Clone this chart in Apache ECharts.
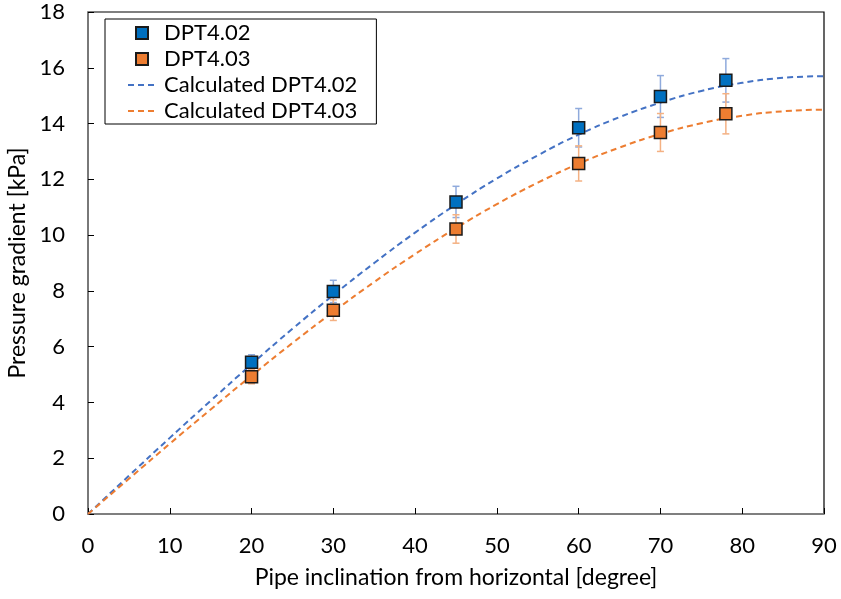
<!DOCTYPE html>
<html>
<head>
<meta charset="utf-8">
<script src="https://cdn.jsdelivr.net/npm/echarts@6/dist/echarts.min.js"></script>
<style>html,body{margin:0;padding:0;background:#fff;}#c{width:841px;height:599px;}</style>
</head>
<body>
<div id="c"></div>
<script>
const angles = [20, 30, 45, 60, 70, 78];
const dpt402 = [5.44, 7.98, 11.19, 13.85, 14.97, 15.55];
const dpt403 = [4.92, 7.31, 10.22, 12.57, 13.68, 14.35];
const err402 = [0.27, 0.40, 0.56, 0.69, 0.75, 0.78];
const err403 = [0.25, 0.37, 0.51, 0.63, 0.68, 0.72];
const calcAngles = [0, 5, 10, 15, 20, 25, 30, 35, 40, 45, 50, 55, 60, 65, 70, 75, 80, 85, 90];
const calc402 = [0, 1.37, 2.73, 4.06, 5.37, 6.64, 7.85, 9.0, 10.09, 11.1, 12.03, 12.86, 13.6, 14.23, 14.75, 15.17, 15.46, 15.64, 15.7];
const calc403 = [0, 1.26, 2.52, 3.75, 4.96, 6.13, 7.25, 8.32, 9.32, 10.25, 11.11, 11.88, 12.56, 13.14, 13.63, 14.01, 14.28, 14.44, 14.5];
const names = ['DPT4.02', 'DPT4.03', 'Calculated DPT4.02', 'Calculated DPT4.03'];

const FONT = 'Lato';
const chart = echarts.init(document.getElementById('c'), null, {renderer: 'canvas'});

function errSeries(ys, es, color) {
  return {
    type: 'custom',
    silent: true,
    z: 3,
    data: angles.map((a, i) => [a, ys[i], es[i]]),
    renderItem: function (params, api) {
      const x = api.value(0), y = api.value(1), e = api.value(2);
      const top = api.coord([x, y + e]);
      const bot = api.coord([x, y - e]);
      const hw = 3.5;
      const st = {stroke: color, lineWidth: 1.5};
      return {
        type: 'group',
        children: [
          {type: 'line', shape: {x1: top[0], y1: top[1], x2: bot[0], y2: bot[1]}, style: st},
          {type: 'line', shape: {x1: top[0] - hw, y1: top[1], x2: top[0] + hw, y2: top[1]}, style: st},
          {type: 'line', shape: {x1: bot[0] - hw, y1: bot[1], x2: bot[0] + hw, y2: bot[1]}, style: st}
        ]
      };
    }
  };
}

const sq = 'path://M0 0H10V10H0Z';
const hidden = {color: 'rgba(0,0,0,0)', borderColor: 'rgba(0,0,0,0)', borderWidth: 0};

chart.setOption({
  animation: false,
  backgroundColor: '#fff',
  textStyle: {fontFamily: FONT},
  grid: {left: 88, right: 17, top: 12, bottom: 85, show: true, borderColor: '#000', borderWidth: 1.2,
         containLabel: false, outerBoundsMode: 'none'},
  legend: {
    orient: 'vertical',
    left: 105, top: 19,
    padding: [3, 19, 2, 22],
    borderColor: '#000', borderWidth: 1,
    itemWidth: 28, itemHeight: 12, itemGap: 4,
    textStyle: {fontFamily: FONT, fontSize: 22, color: '#000', padding: [0, 0, 0, 3]},
    data: [
      {name: names[0], icon: sq},
      {name: names[1], icon: sq},
      {name: names[2], itemStyle: hidden},
      {name: names[3], itemStyle: hidden}
    ]
  },
  xAxis: {
    type: 'value', min: 0, max: 90, interval: 10,
    name: 'Pipe inclination from horizontal [degree]',
    nameLocation: 'middle', nameGap: 52,
    nameTextStyle: {fontFamily: FONT, fontSize: 23, color: '#000'},
    axisLine: {show: true, lineStyle: {color: '#808080', width: 1.5}},
    axisTick: {show: true, inside: true, length: 6, lineStyle: {color: '#000'}},
    axisLabel: {fontFamily: FONT, fontSize: 22, color: '#000', margin: 21},
    splitLine: {show: false}
  },
  yAxis: {
    type: 'value', min: 0, max: 18, interval: 2,
    name: 'Pressure gradient [kPa]',
    nameLocation: 'middle', nameGap: 51,
    nameTextStyle: {fontFamily: FONT, fontSize: 23, color: '#000'},
    axisLine: {show: true, lineStyle: {color: '#808080', width: 1.5}},
    axisTick: {show: true, inside: true, length: 6, lineStyle: {color: '#000'}},
    axisLabel: {fontFamily: FONT, fontSize: 22, color: '#000', margin: 23},
    splitLine: {show: false}
  },
  series: [
    errSeries(dpt402, err402, '#8faadc'),
    errSeries(dpt403, err403, '#f4b183'),
    {
      name: names[2], type: 'line', smooth: true, symbol: 'none', z: 4,
      data: calcAngles.map((a, i) => [a, calc402[i]]),
      lineStyle: {color: '#4472C4', width: 2, type: [6, 4]},
      itemStyle: {color: '#4472C4'}
    },
    {
      name: names[3], type: 'line', smooth: true, symbol: 'none', z: 4,
      data: calcAngles.map((a, i) => [a, calc403[i]]),
      lineStyle: {color: '#ED7D31', width: 2, type: [6, 4]},
      itemStyle: {color: '#ED7D31'}
    },
    {
      name: names[0], type: 'scatter', symbol: 'rect', symbolSize: 12, z: 5,
      data: angles.map((a, i) => [a, dpt402[i]]),
      itemStyle: {color: '#0070C0', borderColor: '#1a1a1a', borderWidth: 1.5, opacity: 1}
    },
    {
      name: names[1], type: 'scatter', symbol: 'rect', symbolSize: 12, z: 5,
      data: angles.map((a, i) => [a, dpt403[i]]),
      itemStyle: {color: '#ED7D31', borderColor: '#1a1a1a', borderWidth: 1.5, opacity: 1}
    }
  ]
});
</script>
</body>
</html>
